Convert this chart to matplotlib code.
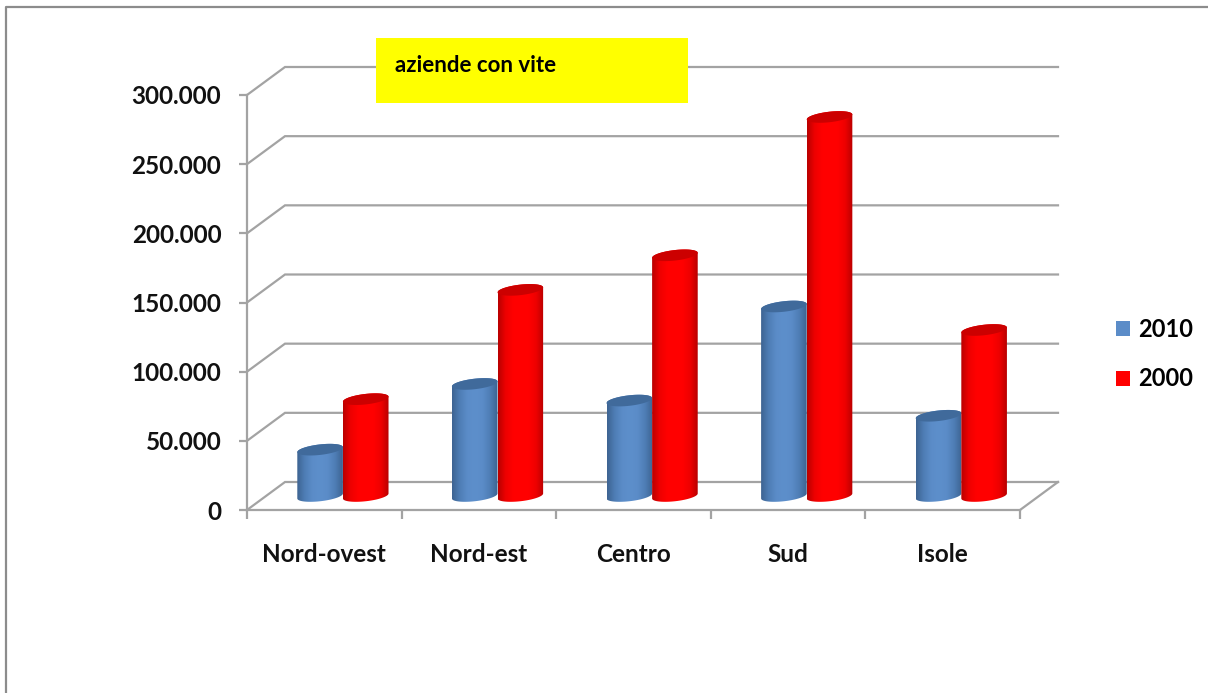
import numpy as np
import matplotlib.pyplot as plt
from matplotlib.lines import Line2D
from matplotlib.patches import Patch, PathPatch, Rectangle
from matplotlib.colors import LinearSegmentedColormap
from matplotlib.path import Path

plt.rcParams['font.family'] = ['Lato', 'DejaVu Sans']
plt.rcParams['font.weight'] = 'bold'

W = 1208
H = 693

regions = ['Nord-ovest', 'Nord-est', 'Centro', 'Sud', 'Isole']
values_2010 = [33500, 81000, 69000, 137000, 58000]
values_2000 = [70000, 149000, 174000, 274000, 120000]
y_ticks = [0, 50000, 100000, 150000, 200000, 250000, 300000]

GREY = '#a3a3a3'
depth_x = 38 / 154.6
depth_y = 28 / 415 * 300000
bar_w = 0.295


def fx(px):
    return px / W


def fy(py):
    return 1 - py / H


def thousands(v):
    return f'{v:,.0f}'.replace(',', '.')


def cylinder(ax, center, value, cmap, cap_color):
    # elliptical ends, tilted slightly upward on the right
    a = bar_w / 2
    b = 3800
    tilt = 1800
    cx = center + depth_x / 2
    base = depth_y / 2
    t_low = np.linspace(np.pi, 2 * np.pi, 40)
    t_up = np.linspace(0, np.pi, 40)

    low_x = cx + a * np.cos(t_low)
    low_y = base + b * np.sin(t_low) + tilt * np.cos(t_low)
    up_x = cx + a * np.cos(t_up)
    up_y = value + base + b * np.sin(t_up) + tilt * np.cos(t_up)

    body = Path(np.column_stack([np.r_[low_x, up_x], np.r_[low_y, up_y]]))
    patch = PathPatch(body, fc='none', ec='none', transform=ax.transData)
    ax.add_patch(patch)
    grad = np.linspace(0, 1, 256).reshape(1, -1)
    im = ax.imshow(grad, cmap=cmap, aspect='auto', zorder=3, interpolation='bilinear',
                   extent=[cx - a, cx + a, base - 2 * b - tilt, value + base + 2 * b + tilt])
    im.set_clip_path(patch)
    im.set_clip_on(True)

    # top cap
    t = np.linspace(0, 2 * np.pi, 80)
    cap_x = cx + a * np.cos(t)
    cap_y = value + base + b * np.sin(t) + tilt * np.cos(t)
    ax.fill(cap_x, cap_y, color=cap_color, lw=0, zorder=3, clip_on=False)


blue_map = LinearSegmentedColormap.from_list(
    'blue_cyl', ['#3d6391', '#4e7db5', '#5b8cc8', '#5d8fcb', '#5b8cc8', '#4e7db5', '#3d6391'])
red_map = LinearSegmentedColormap.from_list(
    'red_cyl', ['#b80000', '#ee0000', '#ff0000', '#ff0000', '#ff0000', '#ee0000', '#b80000'])

fig = plt.figure(figsize=(W / 100, H / 100), dpi=100, facecolor='white')
ax = fig.add_axes([fx(247), fy(510), fx(1020) - fx(247), fy(95) - fy(510)])
ax.patch.set_visible(False)

# walls and floor of the box
for v in y_ticks:
    ax.plot([0, depth_x, 5 + depth_x], [v, v + depth_y, v + depth_y],
            color=GREY, lw=1.6, clip_on=False, zorder=1, solid_joinstyle='miter')
ax.plot([5, 5 + depth_x], [0, depth_y], color=GREY, lw=1.6, clip_on=False, zorder=1)

for i in range(len(regions)):
    cylinder(ax, i + 0.35, values_2010[i], blue_map, '#406a9b')
    cylinder(ax, i + 0.645, values_2000[i], red_map, '#cc0000')

ax.set_xlim(0, 5)
ax.set_ylim(0, 300000)

for side in ['top', 'right']:
    ax.spines[side].set_visible(False)
for side in ['left', 'bottom']:
    ax.spines[side].set_color(GREY)
    ax.spines[side].set_linewidth(1.6)

ax.set_yticks(y_ticks)
ax.set_yticklabels([thousands(v) for v in y_ticks], fontsize=17.5, color='#111111')
ax.set_xticks(range(6))
ax.set_xticklabels([])
ax.set_xticks(np.arange(5) + 0.5, minor=True)
ax.set_xticklabels(regions, minor=True, fontsize=17.5, color='#111111')
ax.tick_params(axis='y', length=6, width=1.6, color=GREY, pad=12.5)
ax.tick_params(axis='x', which='major', length=6.5, width=1.6, color=GREY)
ax.tick_params(axis='x', which='minor', length=0, pad=24)

handles = [Patch(fc='#5b8cc8', ec='none'), Patch(fc='#ff0000', ec='none')]
fig.legend(handles, ['2010', '2000'], loc='center left', frameon=False, fontsize=17,
           bbox_to_anchor=(fx(1116), fy(354)), borderaxespad=0, borderpad=0,
           handlelength=0.6, handleheight=0.6, handletextpad=0.35, labelspacing=1.13)

# yellow title box
fig.add_artist(Rectangle((fx(376), fy(103)), fx(312), 65 / H, transform=fig.transFigure,
                         fc='#ffff00', ec='none', zorder=5))
fig.text(fx(395), fy(66), 'aziende con vite', fontsize=16, va='center', color='black', zorder=6)

# outer frame, open on the right and at the bottom
fig.add_artist(Line2D([fx(6), fx(6), 1], [0, fy(7), fy(7)], color='#8c8c8c', lw=1.6,
                      transform=fig.transFigure, zorder=6))

fig.savefig('out.png', dpi=100)
